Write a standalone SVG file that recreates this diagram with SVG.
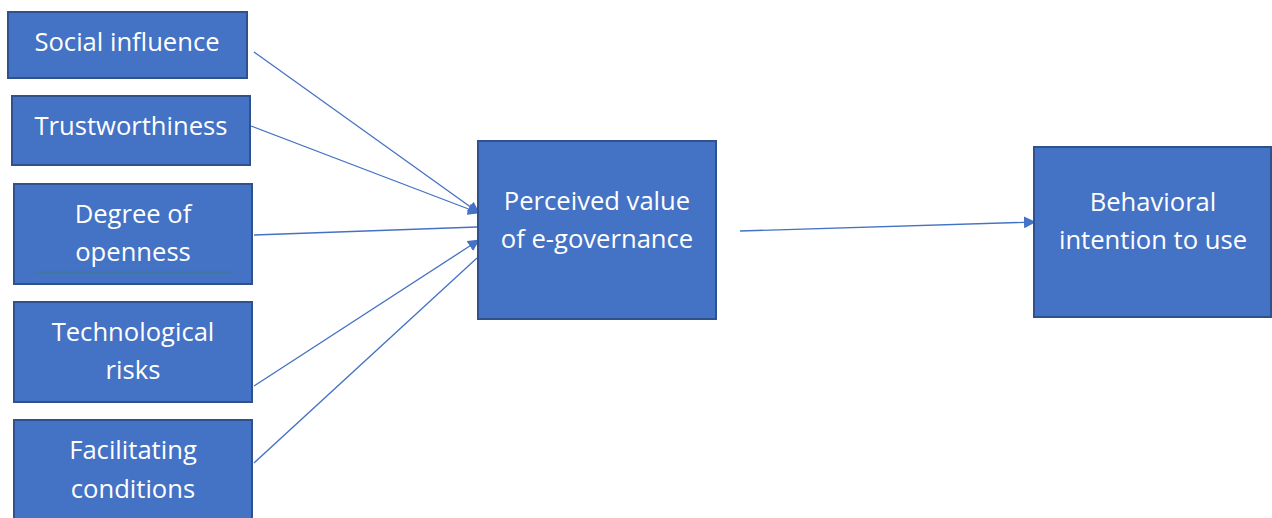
<svg xmlns="http://www.w3.org/2000/svg" width="1272" height="518" viewBox="0 0 1272 518">
<style>
.box{fill:#4472C4;stroke:#2F528F;stroke-width:2}
.t{fill:#ffffff;font-family:"Open Sans","Noto Sans",sans-serif;font-size:25.6px;text-anchor:middle}
.c{stroke:#4472C4;stroke-width:1.3;fill:none}
</style>
<defs>
<marker id="ah" markerWidth="12" markerHeight="12" refX="11" refY="6" orient="auto" markerUnits="userSpaceOnUse" viewBox="0 0 12 12">
<path d="M0,0 L12,6 L0,12 Z" fill="#4472C4"/>
</marker>
</defs>
<rect width="1272" height="518" fill="#ffffff"/>
<g id="connectors">
<line class="c" x1="254" y1="52" x2="479" y2="213" marker-end="url(#ah)"/>
<line class="c" x1="251" y1="126" x2="479" y2="213" marker-end="url(#ah)"/>
<line class="c" x1="254" y1="235" x2="477" y2="227"/>
<line class="c" x1="254" y1="386" x2="479" y2="240" marker-end="url(#ah)"/>
<line class="c" x1="254" y1="463" x2="477" y2="258"/>
<line class="c" x1="740" y1="231" x2="1035" y2="222" marker-end="url(#ah)"/>
</g>
<g id="social">
<rect class="box" x="8" y="12" width="239" height="66"/>
<text class="t" x="127" y="51">Social influence</text>
</g>
<g id="trust">
<rect class="box" x="12" y="96" width="238" height="69"/>
<text class="t" x="131" y="135">Trustworthiness</text>
</g>
<g id="degree">
<rect class="box" x="14" y="184" width="238" height="100"/>
<text class="t" x="133" y="223">Degree of</text>
<text class="t" x="133" y="261">openness</text>
<line x1="35" y1="272" x2="232" y2="272" stroke="#3F7F6F" stroke-width="0.8"/>
</g>
<g id="tech">
<rect class="box" x="14" y="302" width="238" height="100"/>
<text class="t" x="133" y="341">Technological</text>
<text class="t" x="133" y="379">risks</text>
</g>
<g id="facil">
<rect class="box" x="14" y="420" width="238" height="110"/>
<text class="t" x="133" y="459">Facilitating</text>
<text class="t" x="133" y="498">conditions</text>
</g>
<g id="perceived">
<rect class="box" x="478" y="141" width="238" height="178"/>
<text class="t" x="597" y="210">Perceived value</text>
<text class="t" x="597" y="248">of e-governance</text>
</g>
<g id="behavioral">
<rect class="box" x="1034" y="147" width="237" height="170"/>
<text class="t" x="1153" y="211">Behavioral</text>
<text class="t" x="1153" y="249">intention to use</text>
</g>
</svg>
